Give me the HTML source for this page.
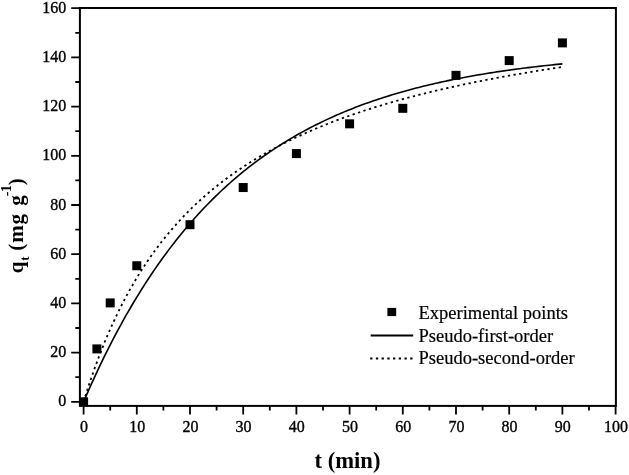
<!DOCTYPE html><html><head><meta charset="utf-8"><style>html,body{margin:0;padding:0;background:#fff;}svg{display:block;will-change:transform;}text{font-family:"Liberation Serif",serif;}</style></head><body>
<svg width="629" height="475" viewBox="0 0 629 475">
<rect width="629" height="475" fill="#fff"/>
<path d="M83.60,401.80 L86.26,395.65 L88.92,389.60 L91.58,383.66 L94.24,377.82 L96.90,372.08 L99.56,366.45 L102.22,360.91 L104.88,355.47 L107.54,350.12 L110.20,344.87 L112.86,339.71 L115.52,334.64 L118.18,329.65 L120.84,324.76 L123.50,319.95 L126.16,315.22 L128.82,310.58 L131.48,306.01 L134.14,301.53 L136.80,297.13 L139.46,292.80 L142.12,288.54 L144.78,284.37 L147.44,280.26 L150.10,276.23 L152.76,272.26 L155.42,268.37 L158.08,264.54 L160.74,260.78 L163.40,257.09 L166.06,253.46 L168.72,249.89 L171.38,246.38 L174.04,242.94 L176.70,239.56 L179.36,236.23 L182.02,232.97 L184.68,229.76 L187.34,226.60 L190.00,223.51 L192.66,220.46 L195.32,217.47 L197.98,214.53 L200.64,211.64 L203.30,208.81 L205.96,206.02 L208.62,203.28 L211.28,200.59 L213.94,197.94 L216.60,195.35 L219.26,192.79 L221.92,190.28 L224.58,187.82 L227.24,185.40 L229.90,183.02 L232.56,180.68 L235.22,178.38 L237.88,176.13 L240.54,173.91 L243.20,171.73 L245.86,169.59 L248.52,167.48 L251.18,165.42 L253.84,163.39 L256.50,161.39 L259.16,159.43 L261.82,157.50 L264.48,155.61 L267.14,153.75 L269.80,151.92 L272.46,150.13 L275.12,148.36 L277.78,146.63 L280.44,144.93 L283.10,143.25 L285.76,141.61 L288.42,139.99 L291.08,138.41 L293.74,136.85 L296.40,135.31 L299.06,133.81 L301.72,132.33 L304.38,130.87 L307.04,129.45 L309.70,128.04 L312.36,126.66 L315.02,125.31 L317.68,123.98 L320.34,122.67 L323.00,121.38 L325.66,120.12 L328.32,118.88 L330.98,117.66 L333.64,116.46 L336.30,115.29 L338.96,114.13 L341.62,112.99 L344.28,111.88 L346.94,110.78 L349.60,109.70 L352.26,108.64 L354.92,107.60 L357.58,106.58 L360.24,105.57 L362.90,104.59 L365.56,103.62 L368.22,102.66 L370.88,101.73 L373.54,100.81 L376.20,99.90 L378.86,99.02 L381.52,98.14 L384.18,97.29 L386.84,96.44 L389.50,95.62 L392.16,94.80 L394.82,94.00 L397.48,93.22 L400.14,92.45 L402.80,91.69 L405.46,90.94 L408.12,90.21 L410.78,89.49 L413.44,88.79 L416.10,88.09 L418.76,87.41 L421.42,86.74 L424.08,86.08 L426.74,85.43 L429.40,84.80 L432.06,84.17 L434.72,83.56 L437.38,82.96 L440.04,82.36 L442.70,81.78 L445.36,81.21 L448.02,80.65 L450.68,80.10 L453.34,79.55 L456.00,79.02 L458.66,78.50 L461.32,77.98 L463.98,77.48 L466.64,76.98 L469.30,76.49 L471.96,76.01 L474.62,75.54 L477.28,75.08 L479.94,74.62 L482.60,74.17 L485.26,73.73 L487.92,73.30 L490.58,72.88 L493.24,72.46 L495.90,72.05 L498.56,71.65 L501.22,71.25 L503.88,70.87 L506.54,70.48 L509.20,70.11 L511.86,69.74 L514.52,69.38 L517.18,69.02 L519.84,68.67 L522.50,68.33 L525.16,67.99 L527.82,67.66 L530.48,67.34 L533.14,67.02 L535.80,66.70 L538.46,66.39 L541.12,66.09 L543.78,65.79 L546.44,65.50 L549.10,65.21 L551.76,64.93 L554.42,64.65 L557.08,64.37 L559.74,64.11 L562.40,63.84" fill="none" stroke="#000" stroke-width="1.6"/>
<path d="M83.60,401.80 L86.26,393.23 L88.92,384.99 L91.58,377.08 L94.24,369.47 L96.90,362.14 L99.56,355.08 L102.22,348.27 L104.88,341.70 L107.54,335.36 L110.20,329.24 L112.86,323.32 L115.52,317.60 L118.18,312.07 L120.84,306.71 L123.50,301.52 L126.16,296.49 L128.82,291.61 L131.48,286.88 L134.14,282.29 L136.80,277.84 L139.46,273.51 L142.12,269.30 L144.78,265.21 L147.44,261.24 L150.10,257.37 L152.76,253.61 L155.42,249.94 L158.08,246.37 L160.74,242.90 L163.40,239.51 L166.06,236.21 L168.72,232.99 L171.38,229.84 L174.04,226.78 L176.70,223.79 L179.36,220.86 L182.02,218.01 L184.68,215.22 L187.34,212.50 L190.00,209.84 L192.66,207.23 L195.32,204.69 L197.98,202.20 L200.64,199.76 L203.30,197.38 L205.96,195.04 L208.62,192.76 L211.28,190.52 L213.94,188.33 L216.60,186.18 L219.26,184.08 L221.92,182.01 L224.58,179.99 L227.24,178.01 L229.90,176.07 L232.56,174.16 L235.22,172.29 L237.88,170.45 L240.54,168.65 L243.20,166.88 L245.86,165.15 L248.52,163.44 L251.18,161.77 L253.84,160.12 L256.50,158.51 L259.16,156.92 L261.82,155.36 L264.48,153.83 L267.14,152.32 L269.80,150.84 L272.46,149.38 L275.12,147.95 L277.78,146.54 L280.44,145.15 L283.10,143.79 L285.76,142.45 L288.42,141.13 L291.08,139.83 L293.74,138.55 L296.40,137.29 L299.06,136.05 L301.72,134.83 L304.38,133.62 L307.04,132.44 L309.70,131.27 L312.36,130.12 L315.02,128.99 L317.68,127.88 L320.34,126.78 L323.00,125.69 L325.66,124.63 L328.32,123.57 L330.98,122.53 L333.64,121.51 L336.30,120.50 L338.96,119.51 L341.62,118.52 L344.28,117.56 L346.94,116.60 L349.60,115.66 L352.26,114.73 L354.92,113.81 L357.58,112.91 L360.24,112.01 L362.90,111.13 L365.56,110.26 L368.22,109.40 L370.88,108.56 L373.54,107.72 L376.20,106.89 L378.86,106.07 L381.52,105.27 L384.18,104.47 L386.84,103.69 L389.50,102.91 L392.16,102.14 L394.82,101.38 L397.48,100.63 L400.14,99.89 L402.80,99.16 L405.46,98.44 L408.12,97.73 L410.78,97.02 L413.44,96.32 L416.10,95.63 L418.76,94.95 L421.42,94.28 L424.08,93.61 L426.74,92.95 L429.40,92.30 L432.06,91.66 L434.72,91.02 L437.38,90.39 L440.04,89.77 L442.70,89.15 L445.36,88.54 L448.02,87.94 L450.68,87.34 L453.34,86.75 L456.00,86.16 L458.66,85.59 L461.32,85.01 L463.98,84.45 L466.64,83.89 L469.30,83.33 L471.96,82.79 L474.62,82.24 L477.28,81.71 L479.94,81.17 L482.60,80.65 L485.26,80.13 L487.92,79.61 L490.58,79.10 L493.24,78.59 L495.90,78.09 L498.56,77.60 L501.22,77.10 L503.88,76.62 L506.54,76.14 L509.20,75.66 L511.86,75.19 L514.52,74.72 L517.18,74.25 L519.84,73.79 L522.50,73.34 L525.16,72.89 L527.82,72.44 L530.48,72.00 L533.14,71.56 L535.80,71.13 L538.46,70.70 L541.12,70.27 L543.78,69.85 L546.44,69.43 L549.10,69.01 L551.76,68.60 L554.42,68.19 L557.08,67.79 L559.74,67.39 L562.40,66.99" fill="none" stroke="#000" stroke-width="1.8" stroke-dasharray="2.3 3.42"/>
<rect x="79.9" y="8" width="536.0" height="397.9" fill="none" stroke="#000" stroke-width="2"/>
<path d="M71.2,401.80H79.9M75.3,377.20H79.9M71.2,352.60H79.9M75.3,328.00H79.9M71.2,303.40H79.9M75.3,278.80H79.9M71.2,254.20H79.9M75.3,229.60H79.9M71.2,205.00H79.9M75.3,180.40H79.9M71.2,155.80H79.9M75.3,131.20H79.9M71.2,106.60H79.9M75.3,82.00H79.9M71.2,57.40H79.9M75.3,32.80H79.9M71.2,8.20H79.9M83.60,405.9V414.5M110.20,405.9V410.5M136.80,405.9V414.5M163.40,405.9V410.5M190.00,405.9V414.5M216.60,405.9V410.5M243.20,405.9V414.5M269.80,405.9V410.5M296.40,405.9V414.5M323.00,405.9V410.5M349.60,405.9V414.5M376.20,405.9V410.5M402.80,405.9V414.5M429.40,405.9V410.5M456.00,405.9V414.5M482.60,405.9V410.5M509.20,405.9V414.5M535.80,405.9V410.5M562.40,405.9V414.5M589.00,405.9V410.5M615.60,405.9V414.5" stroke="#000" stroke-width="1.8" fill="none"/>
<text transform="translate(66.3,406.40) scale(1,1.1)" font-size="16" stroke="#000" stroke-width="0.35" text-anchor="end">0</text>
<text transform="translate(66.3,357.20) scale(1,1.1)" font-size="16" stroke="#000" stroke-width="0.35" text-anchor="end">20</text>
<text transform="translate(66.3,308.00) scale(1,1.1)" font-size="16" stroke="#000" stroke-width="0.35" text-anchor="end">40</text>
<text transform="translate(66.3,258.80) scale(1,1.1)" font-size="16" stroke="#000" stroke-width="0.35" text-anchor="end">60</text>
<text transform="translate(66.3,209.60) scale(1,1.1)" font-size="16" stroke="#000" stroke-width="0.35" text-anchor="end">80</text>
<text transform="translate(66.3,160.40) scale(1,1.1)" font-size="16" stroke="#000" stroke-width="0.35" text-anchor="end">100</text>
<text transform="translate(66.3,111.20) scale(1,1.1)" font-size="16" stroke="#000" stroke-width="0.35" text-anchor="end">120</text>
<text transform="translate(66.3,62.00) scale(1,1.1)" font-size="16" stroke="#000" stroke-width="0.35" text-anchor="end">140</text>
<text transform="translate(66.3,12.80) scale(1,1.1)" font-size="16" stroke="#000" stroke-width="0.35" text-anchor="end">160</text>
<text transform="translate(84.00,432.1) scale(1,1.1)" font-size="16" stroke="#000" stroke-width="0.35" text-anchor="middle">0</text>
<text transform="translate(137.20,432.1) scale(1,1.1)" font-size="16" stroke="#000" stroke-width="0.35" text-anchor="middle">10</text>
<text transform="translate(190.40,432.1) scale(1,1.1)" font-size="16" stroke="#000" stroke-width="0.35" text-anchor="middle">20</text>
<text transform="translate(243.60,432.1) scale(1,1.1)" font-size="16" stroke="#000" stroke-width="0.35" text-anchor="middle">30</text>
<text transform="translate(296.80,432.1) scale(1,1.1)" font-size="16" stroke="#000" stroke-width="0.35" text-anchor="middle">40</text>
<text transform="translate(350.00,432.1) scale(1,1.1)" font-size="16" stroke="#000" stroke-width="0.35" text-anchor="middle">50</text>
<text transform="translate(403.20,432.1) scale(1,1.1)" font-size="16" stroke="#000" stroke-width="0.35" text-anchor="middle">60</text>
<text transform="translate(456.40,432.1) scale(1,1.1)" font-size="16" stroke="#000" stroke-width="0.35" text-anchor="middle">70</text>
<text transform="translate(509.60,432.1) scale(1,1.1)" font-size="16" stroke="#000" stroke-width="0.35" text-anchor="middle">80</text>
<text transform="translate(562.80,432.1) scale(1,1.1)" font-size="16" stroke="#000" stroke-width="0.35" text-anchor="middle">90</text>
<text transform="translate(616.00,432.1) scale(1,1.1)" font-size="16" stroke="#000" stroke-width="0.35" text-anchor="middle">100</text>
<rect x="79.10" y="397.30" width="9" height="9" fill="#000"/>
<rect x="92.40" y="344.41" width="9" height="9" fill="#000"/>
<rect x="105.70" y="298.41" width="9" height="9" fill="#000"/>
<rect x="132.30" y="261.26" width="9" height="9" fill="#000"/>
<rect x="185.50" y="220.18" width="9" height="9" fill="#000"/>
<rect x="238.70" y="183.03" width="9" height="9" fill="#000"/>
<rect x="291.90" y="149.09" width="9" height="9" fill="#000"/>
<rect x="345.10" y="119.32" width="9" height="9" fill="#000"/>
<rect x="398.30" y="103.82" width="9" height="9" fill="#000"/>
<rect x="451.50" y="70.86" width="9" height="9" fill="#000"/>
<rect x="504.70" y="56.10" width="9" height="9" fill="#000"/>
<rect x="557.90" y="38.39" width="9" height="9" fill="#000"/>
<text x="347.5" y="467.6" font-size="22.6" font-weight="bold" text-anchor="middle">t (min)</text>
<g transform="translate(22.5,0) rotate(-90)" font-weight="bold">
<text x="-273.26" y="0" font-size="21">q</text>
<text x="-260.81" y="6.9" font-size="13">t</text>
<text x="-250.82" y="0" font-size="21">(</text>
<text x="-242.77" y="0" font-size="21">m</text>
<text x="-224.55" y="0" font-size="21">g</text>
<text x="-205.85" y="0" font-size="21">g</text>
<text x="-196.22" y="-11.36" font-size="14">-</text>
<text x="-192.12" y="-11.36" font-size="14">1</text>
<text x="-185.27" y="0" font-size="21">)</text>
</g>
<rect x="387.4" y="307.9" width="8.8" height="8.2" fill="#000"/>
<path d="M370.7,335.5H413.2" stroke="#000" stroke-width="1.8"/>
<path d="M370.15,358.5H412.6" stroke="#000" stroke-width="1.8" stroke-dasharray="2.3 3.42"/>
<text x="418.5" y="318.9" font-size="18.5" stroke="#000" stroke-width="0.2">Experimental points</text>
<text x="418.5" y="341.6" font-size="18.5" stroke="#000" stroke-width="0.2">Pseudo-first-order</text>
<text x="418.5" y="364.4" font-size="18.5" stroke="#000" stroke-width="0.2">Pseudo-second-order</text>
</svg></body></html>
